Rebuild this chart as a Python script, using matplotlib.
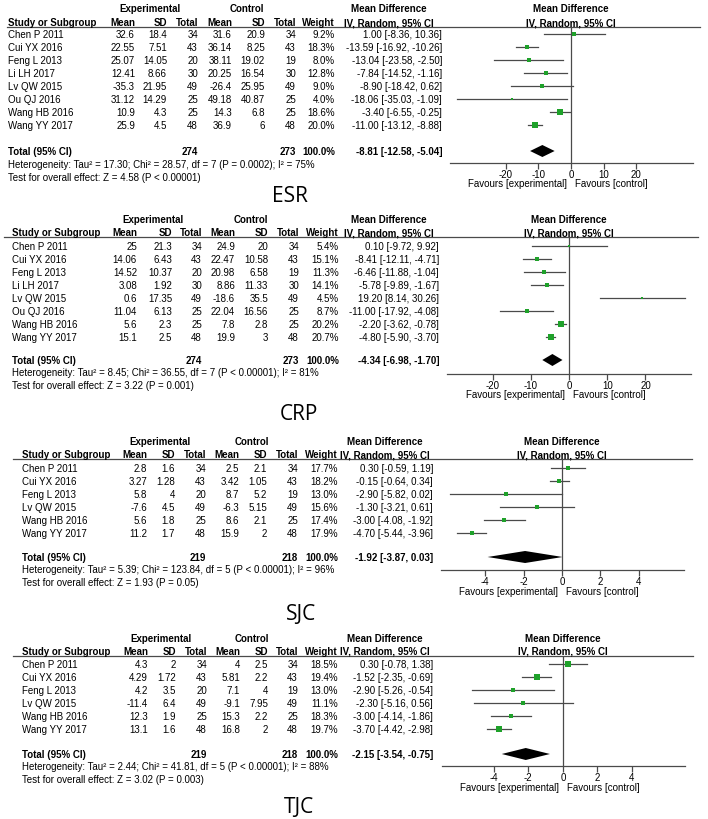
import matplotlib
matplotlib.use('Agg')
import matplotlib.pyplot as plt
from matplotlib.lines import Line2D

plt.rcParams['font.family'] = ['Liberation Sans', 'DejaVu Sans']
plt.rcParams['axes.unicode_minus'] = False

# ---------------- data ----------------
studies8 = ['Chen P 2011', 'Cui YX 2016', 'Feng L 2013', 'Li LH 2017',
            'Lv QW 2015', 'Ou QJ 2016', 'Wang HB 2016', 'Wang YY 2017']
studies6 = ['Chen P 2011', 'Cui YX 2016', 'Feng L 2013',
            'Lv QW 2015', 'Wang HB 2016', 'Wang YY 2017']

# ESR
esr_exp_mean = [32.6, 22.55, 25.07, 12.41, -35.3, 31.12, 10.9, 25.9]
esr_exp_sd = [18.4, 7.51, 14.05, 8.66, 21.95, 14.29, 4.3, 4.5]
esr_exp_n = [34, 43, 20, 30, 49, 25, 25, 48]
esr_ctl_mean = [31.6, 36.14, 38.11, 20.25, -26.4, 49.18, 14.3, 36.9]
esr_ctl_sd = [20.9, 8.25, 19.02, 16.54, 25.95, 40.87, 6.8, 6]
esr_ctl_n = [34, 43, 19, 30, 49, 25, 25, 48]
esr_weight = [9.2, 18.3, 8.0, 12.8, 9.0, 4.0, 18.6, 20.0]
esr_md = [1.00, -13.59, -13.04, -7.84, -8.90, -18.06, -3.40, -11.00]
esr_lo = [-8.36, -16.92, -23.58, -14.52, -18.42, -35.03, -6.55, -13.12]
esr_hi = [10.36, -10.26, -2.50, -1.16, 0.62, -1.09, -0.25, -8.88]
esr_total = [274, 273, -8.81, -12.58, -5.04]
esr_het = 'Heterogeneity: Tau\u00b2 = 17.30; Chi\u00b2 = 28.57, df = 7 (P = 0.0002); I\u00b2 = 75%'
esr_test = 'Test for overall effect: Z = 4.58 (P < 0.00001)'
esr_ticks = [-20, -10, 0, 10, 20]

# CRP
crp_exp_mean = [25, 14.06, 14.52, 3.08, 0.6, 11.04, 5.6, 15.1]
crp_exp_sd = [21.3, 6.43, 10.37, 1.92, 17.35, 6.13, 2.3, 2.5]
crp_exp_n = [34, 43, 20, 30, 49, 25, 25, 48]
crp_ctl_mean = [24.9, 22.47, 20.98, 8.86, -18.6, 22.04, 7.8, 19.9]
crp_ctl_sd = [20, 10.58, 6.58, 11.33, 35.5, 16.56, 2.8, 3]
crp_ctl_n = [34, 43, 19, 30, 49, 25, 25, 48]
crp_weight = [5.4, 15.1, 11.3, 14.1, 4.5, 8.7, 20.2, 20.7]
crp_md = [0.10, -8.41, -6.46, -5.78, 19.20, -11.00, -2.20, -4.80]
crp_lo = [-9.72, -12.11, -11.88, -9.89, 8.14, -17.92, -3.62, -5.90]
crp_hi = [9.92, -4.71, -1.04, -1.67, 30.26, -4.08, -0.78, -3.70]
crp_total = [274, 273, -4.34, -6.98, -1.70]
crp_het = 'Heterogeneity: Tau\u00b2 = 8.45; Chi\u00b2 = 36.55, df = 7 (P < 0.00001); I\u00b2 = 81%'
crp_test = 'Test for overall effect: Z = 3.22 (P = 0.001)'
crp_ticks = [-20, -10, 0, 10, 20]

# SJC
sjc_exp_mean = [2.8, 3.27, 5.8, -7.6, 5.6, 11.2]
sjc_exp_sd = [1.6, 1.28, 4, 4.5, 1.8, 1.7]
sjc_exp_n = [34, 43, 20, 49, 25, 48]
sjc_ctl_mean = [2.5, 3.42, 8.7, -6.3, 8.6, 15.9]
sjc_ctl_sd = [2.1, 1.05, 5.2, 5.15, 2.1, 2]
sjc_ctl_n = [34, 43, 19, 49, 25, 48]
sjc_weight = [17.7, 18.2, 13.0, 15.6, 17.4, 17.9]
sjc_md = [0.30, -0.15, -2.90, -1.30, -3.00, -4.70]
sjc_lo = [-0.59, -0.64, -5.82, -3.21, -4.08, -5.44]
sjc_hi = [1.19, 0.34, 0.02, 0.61, -1.92, -3.96]
sjc_total = [219, 218, -1.92, -3.87, 0.03]
sjc_het = 'Heterogeneity: Tau\u00b2 = 5.39; Chi\u00b2 = 123.84, df = 5 (P < 0.00001); I\u00b2 = 96%'
sjc_test = 'Test for overall effect: Z = 1.93 (P = 0.05)'
sjc_ticks = [-4, -2, 0, 2, 4]

# TJC
tjc_exp_mean = [4.3, 4.29, 4.2, -11.4, 12.3, 13.1]
tjc_exp_sd = [2, 1.72, 3.5, 6.4, 1.9, 1.6]
tjc_exp_n = [34, 43, 20, 49, 25, 48]
tjc_ctl_mean = [4, 5.81, 7.1, -9.1, 15.3, 16.8]
tjc_ctl_sd = [2.5, 2.2, 4, 7.95, 2.2, 2]
tjc_ctl_n = [34, 43, 19, 49, 25, 48]
tjc_weight = [18.5, 19.4, 13.0, 11.1, 18.3, 19.7]
tjc_md = [0.30, -1.52, -2.90, -2.30, -3.00, -3.70]
tjc_lo = [-0.78, -2.35, -5.26, -5.16, -4.14, -4.42]
tjc_hi = [1.38, -0.69, -0.54, 0.56, -1.86, -2.98]
tjc_total = [219, 218, -2.15, -3.54, -0.75]
tjc_het = 'Heterogeneity: Tau\u00b2 = 2.44; Chi\u00b2 = 41.81, df = 5 (P < 0.00001); I\u00b2 = 88%'
tjc_test = 'Test for overall effect: Z = 3.02 (P = 0.003)'
tjc_ticks = [-4, -2, 0, 2, 4]

W, H = 708, 819
fig = plt.figure(figsize=(W / 100, H / 100), dpi=100)
fig.patch.set_facecolor('white')

FS = 7
GREEN = '#1fa12a'
GREY = '#4a4a4a'


def fx(px):
    return px / W


def fy(py):
    return 1 - py / H


def txt(x, y, s, ha='left', bold=False, size=FS, **kw):
    fig.text(fx(x), fy(y), s, ha=ha, va='center', fontsize=size,
             fontweight='bold' if bold else 'normal', **kw)


def fmt(v):
    return '{:g}'.format(v)


def panel(lay, studies, em, esd, en, cm, csd, cn, wt, md, lo, hi, total, het, test, ticks, label):
    # column right edges: exp mean, sd, total, ctl mean, sd, total, weight
    c = lay['cols']
    y0 = lay['top']
    # group headers
    txt(lay['exp_c'], y0, 'Experimental', ha='center', bold=True)
    txt(lay['ctl_c'], y0, 'Control', ha='center', bold=True)
    txt(lay['md_c'], y0, 'Mean Difference', ha='center', bold=True)
    txt(lay['zero'], y0, 'Mean Difference', ha='center', bold=True)
    yh = lay['hdr']
    txt(lay['left'], yh, 'Study or Subgroup', bold=True)
    for x, s in zip(c, ['Mean', 'SD', 'Total', 'Mean', 'SD', 'Total', 'Weight']):
        txt(x, yh, s, ha='right', bold=True)
    txt(lay['md_c'], yh, 'IV, Random, 95% CI', ha='center', bold=True)
    txt(lay['zero'], yh, 'IV, Random, 95% CI', ha='center', bold=True)
    fig.add_artist(Line2D([fx(lay['line'][0]), fx(lay['line'][1])],
                          [fy(lay['ul']), fy(lay['ul'])], color=GREY, lw=0.9))

    # study rows
    rows = [lay['row0'] + 13 * i for i in range(len(studies))]
    for i, y in enumerate(rows):
        txt(lay['left'], y, studies[i])
        vals = [fmt(em[i]), fmt(esd[i]), str(en[i]), fmt(cm[i]), fmt(csd[i]),
                str(cn[i]), '{:.1f}%'.format(wt[i])]
        for x, s in zip(c, vals):
            txt(x, y, s, ha='right')
        txt(lay['md_r'], y, '{:.2f} [{:.2f}, {:.2f}]'.format(md[i], lo[i], hi[i]), ha='right')

    # total row
    yt = lay['tot']
    txt(lay['left'], yt, 'Total (95% CI)', bold=True)
    txt(c[2], yt, str(total[0]), ha='right', bold=True)
    txt(c[5], yt, str(total[1]), ha='right', bold=True)
    txt(c[6], yt, '100.0%', ha='right', bold=True)
    txt(lay['md_r'], yt, '{:.2f} [{:.2f}, {:.2f}]'.format(total[2], total[3], total[4]),
        ha='right', bold=True)
    txt(lay['left'], lay['het'], het)
    txt(lay['left'], lay['het'] + 13, test)

    # forest plot axes (y in pixel rows)
    ax = fig.add_axes([fx(lay['ax'][0]), fy(lay['axis_y']),
                       fx(lay['ax'][1]) - fx(lay['ax'][0]),
                       (lay['axis_y'] - lay['ul']) / H])
    ax.set_xlim(lay['xlim'])
    ax.set_ylim(lay['axis_y'], lay['ul'])
    ax.patch.set_alpha(0)
    for s in ['top', 'left', 'right']:
        ax.spines[s].set_visible(False)
    ax.spines['bottom'].set_color(GREY)
    ax.spines['bottom'].set_linewidth(0.9)
    ax.set_yticks([])
    ax.set_xticks(ticks)
    ax.tick_params(axis='x', direction='out', length=4, width=0.9, color=GREY,
                   labelsize=FS, pad=1)
    ax.axvline(0, color=GREY, lw=0.9)
    for i, y in enumerate(rows):
        ax.plot([lo[i], hi[i]], [y - 1, y - 1], color=GREY, lw=0.9)
        side = 5.2 * (wt[i] / 20) ** 0.5
        ax.plot(md[i], y - 1, marker='s', color=GREEN, markersize=side * 0.72,
                markeredgewidth=0)
    ax.fill([total[3], total[2], total[4], total[2]],
            [yt - 1, yt - 7, yt - 1, yt + 5], color='black', lw=0)

    # favours labels
    txt(lay['zero'] - 4, lay['fav'], 'Favours [experimental]', ha='right')
    txt(lay['zero'] + 4, lay['fav'], 'Favours [control]', ha='left')

    # big panel label
    fig.text(fx(lay['lab'][0]), fy(lay['lab'][1]), label, ha='center', va='baseline',
             fontsize=15, family=['Open Sans', 'DejaVu Sans'])


esr_lay = dict(top=9, hdr=23, ul=27, row0=35, tot=152, het=165, axis_y=163, fav=184,
               left=8, cols=[135, 167, 198, 232, 265, 296, 335], exp_c=150, ctl_c=247,
               md_r=442, md_c=389, zero=571, ax=(450, 693), xlim=(-37.2, 37.5),
               line=(7, 700), lab=(290, 202))
crp_lay = dict(top=220, hdr=233, ul=237, row0=247, tot=361, het=373, axis_y=374, fav=395,
               left=12, cols=[137, 172, 202, 235, 268, 299, 339], exp_c=153, ctl_c=251,
               md_r=439, md_c=389, zero=569, ax=(447, 691), xlim=(-31.9, 31.9),
               line=(4, 698), lab=(299, 420))
sjc_lay = dict(top=442, hdr=455, ul=459, row0=469, tot=558, het=570, axis_y=570, fav=592,
               left=22, cols=[147, 175, 206, 239, 267, 298, 338], exp_c=160, ctl_c=252,
               md_r=433, md_c=385, zero=562, ax=(441, 684), xlim=(-6.29, 6.34),
               line=(13, 692), lab=(301, 620))
tjc_lay = dict(top=639, hdr=652, ul=656, row0=665, tot=755, het=767, axis_y=766, fav=788,
               left=22, cols=[148, 176, 207, 240, 268, 298, 338], exp_c=161, ctl_c=252,
               md_r=433, md_c=385, zero=563, ax=(442, 685), xlim=(-7.0, 7.07),
               line=(13, 693), lab=(299, 813))

panel(esr_lay, studies8, esr_exp_mean, esr_exp_sd, esr_exp_n, esr_ctl_mean, esr_ctl_sd,
      esr_ctl_n, esr_weight, esr_md, esr_lo, esr_hi, esr_total, esr_het, esr_test,
      esr_ticks, 'ESR')
panel(crp_lay, studies8, crp_exp_mean, crp_exp_sd, crp_exp_n, crp_ctl_mean, crp_ctl_sd,
      crp_ctl_n, crp_weight, crp_md, crp_lo, crp_hi, crp_total, crp_het, crp_test,
      crp_ticks, 'CRP')
panel(sjc_lay, studies6, sjc_exp_mean, sjc_exp_sd, sjc_exp_n, sjc_ctl_mean, sjc_ctl_sd,
      sjc_ctl_n, sjc_weight, sjc_md, sjc_lo, sjc_hi, sjc_total, sjc_het, sjc_test,
      sjc_ticks, 'SJC')
panel(tjc_lay, studies6, tjc_exp_mean, tjc_exp_sd, tjc_exp_n, tjc_ctl_mean, tjc_ctl_sd,
      tjc_ctl_n, tjc_weight, tjc_md, tjc_lo, tjc_hi, tjc_total, tjc_het, tjc_test,
      tjc_ticks, 'TJC')

fig.savefig('out.png', dpi=100)
